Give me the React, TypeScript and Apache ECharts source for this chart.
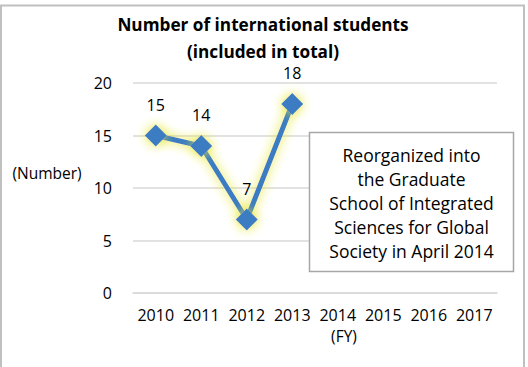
import React, { useEffect, useRef } from "react";
import * as echarts from "echarts";

const categories = ["2010", "2011", "2012", "2013", "2014", "2015", "2016", "2017"];
const students: (number | null)[] = [15, 14, 7, 18, null, null, null, null];
const titleLines = ["Number of international students", "(included in total)"];
const noteLines = [
  "Reorganized into",
  "the Graduate",
  "School of Integrated",
  "Sciences for Global",
  "Society in April 2014",
];
const yName = "(Number)";
const xName = "(FY)";

const FONT = "'Open Sans', 'Noto Sans', sans-serif";

export default function App() {
  const ref = useRef<HTMLDivElement>(null);
  useEffect(() => {
    if (!ref.current) return;
    const chart = echarts.init(ref.current, undefined, { renderer: "svg" });
    chart.setOption({
      animation: false,
      backgroundColor: "#ffffff",
      grid: { left: 133, right: 31, top: 83, bottom: 74, containLabel: false },
      xAxis: {
        type: "category",
        data: categories,
        boundaryGap: true,
        axisLine: { show: true, lineStyle: { color: "#d9d9d9", width: 1.5 } },
        axisTick: { show: false },
        axisLabel: {
          color: "#000",
          fontSize: 16,
          fontFamily: FONT,
          margin: 14,
          interval: 0,
          hideOverlap: false,
        },
      },
      yAxis: {
        type: "value",
        min: 0,
        max: 20,
        interval: 5,
        axisLine: { show: false },
        axisTick: { show: false },
        splitLine: { lineStyle: { color: "#d9d9d9", width: 1.5 } },
        axisLabel: { color: "#000", fontSize: 16, fontFamily: FONT, margin: 21 },
      },
      series: [
        {
          type: "line",
          data: students,
          symbol: "diamond",
          symbolSize: 22,
          connectNulls: false,
          color: "#3a7cc3",
          lineStyle: {
            width: 5,
            color: "#3a7cc3",
            shadowColor: "rgba(230,230,40,1)",
            shadowBlur: 11,
          },
          itemStyle: {
            color: "#3a7cc3",
            shadowColor: "rgba(230,230,40,1)",
            shadowBlur: 11,
          },
          label: {
            show: true,
            position: "top",
            distance: 12,
            color: "#000",
            fontSize: 16,
            fontFamily: FONT,
          },
        },
      ],
      graphic: [
        {
          type: "rect",
          shape: { x: 1, y: 5.5, width: 523, height: 420 },
          style: { fill: "none", stroke: "#c0c0c0", lineWidth: 2 },
          silent: true,
          z: -1,
        },
        {
          type: "text",
          x: 263,
          y: 37.5,
          style: {
            text: titleLines.join("\n"),
            fontFamily: FONT,
            fontWeight: "bold",
            fontSize: 17.2,
            lineHeight: 27,
            fill: "#000",
            align: "center",
            verticalAlign: "middle",
          },
          z: 100,
        },
        {
          type: "text",
          x: 47,
          y: 173,
          style: {
            text: yName,
            fontFamily: FONT,
            fontSize: 15.5,
            fill: "#000",
            align: "center",
            verticalAlign: "middle",
          },
          z: 100,
        },
        {
          type: "text",
          x: 344,
          y: 336,
          style: {
            text: xName,
            fontFamily: FONT,
            fontSize: 15.5,
            fill: "#000",
            align: "center",
            verticalAlign: "middle",
          },
          z: 100,
        },
        {
          type: "rect",
          shape: { x: 309.5, y: 132.5, width: 204, height: 139 },
          style: { fill: "#ffffff", stroke: "#a6a6a6", lineWidth: 1.5 },
          z: 100,
        },
        {
          type: "text",
          x: 411.5,
          y: 203,
          style: {
            text: noteLines.join("\n"),
            fontFamily: FONT,
            fontSize: 17.5,
            lineHeight: 24.2,
            fill: "#000",
            align: "center",
            verticalAlign: "middle",
          },
          z: 101,
        },
      ],
    });
    return () => chart.dispose();
  }, []);
  return (
    <div
      ref={ref}
      style={{ position: "absolute", left: 0, top: 0, width: 528, height: 367 }}
    />
  );
}
